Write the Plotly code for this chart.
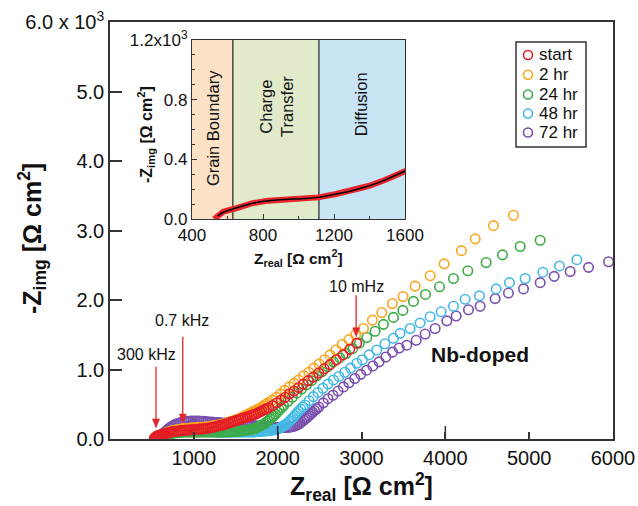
import plotly.graph_objects as go

# ---------------- data (main Nyquist plot, Z in Ohm cm^2; -Zimg in 10^3 Ohm cm^2) ----------
start_z = [528, 535, 543, 552, 562, 575, 588, 600, 615, 630, 645, 660, 680, 700, 720, 740, 765, 790,
           815, 840, 865, 890, 915, 940, 965, 990, 1015, 1040, 1065, 1090, 1115, 1140, 1165, 1190,
           1215, 1240, 1265, 1290, 1315, 1340, 1365, 1390, 1415, 1440, 1465, 1490, 1515, 1540, 1565,
           1590, 1615, 1640, 1665, 1690, 1715, 1740, 1765, 1790, 1815, 1840, 1865, 1890, 1940, 1990,
           2040, 2090, 2140, 2195, 2250, 2305, 2365, 2425, 2490, 2555, 2625, 2700, 2780, 2860, 2944]
start_y = [0.005, 0.015, 0.025, 0.035, 0.045, 0.05, 0.055, 0.06, 0.065, 0.07, 0.075, 0.08, 0.085,
           0.09, 0.10, 0.105, 0.108, 0.11, 0.115, 0.12, 0.122, 0.125, 0.128, 0.13, 0.133, 0.135,
           0.138, 0.14, 0.143, 0.145, 0.148, 0.15, 0.155, 0.16, 0.165, 0.17, 0.18, 0.19, 0.195, 0.20,
           0.21, 0.22, 0.23, 0.24, 0.25, 0.26, 0.27, 0.28, 0.29, 0.30, 0.31, 0.32, 0.33, 0.34, 0.35,
           0.36, 0.375, 0.39, 0.405, 0.42, 0.435, 0.45, 0.48, 0.52, 0.56, 0.60, 0.65, 0.69, 0.74,
           0.79, 0.84, 0.89, 0.95, 1.01, 1.07, 1.14, 1.21, 1.29, 1.38]

hr2_z = [575, 583, 592, 602, 613, 625, 638, 652, 667, 683, 700, 720, 740, 762, 785, 810, 835, 860,
         885, 910, 935, 960, 985, 1010, 1035, 1060, 1085, 1110, 1135, 1160, 1185, 1210, 1235, 1260,
         1285, 1310, 1335, 1360, 1385, 1410, 1435, 1460, 1485, 1510, 1535, 1560, 1585, 1610, 1635,
         1660, 1685, 1710, 1735, 1760, 1785, 1810, 1835, 1860, 1885, 1935, 1985, 2035, 2085, 2140,
         2195, 2250, 2310, 2370, 2430, 2495, 2560, 2625, 2695, 2770, 2850, 2930, 3023, 3130, 3242,
         3369, 3496, 3640, 3819, 3986, 4192, 4356, 4574, 4813]
hr2_y = [0.005, 0.015, 0.025, 0.035, 0.045, 0.055, 0.065, 0.075, 0.085, 0.095, 0.10, 0.11, 0.12,
         0.125, 0.13, 0.135, 0.14, 0.145, 0.15, 0.152, 0.155, 0.158, 0.16, 0.162, 0.165, 0.167,
         0.17, 0.17, 0.172, 0.176, 0.18, 0.185, 0.19, 0.195, 0.20, 0.205, 0.21, 0.22, 0.23, 0.24,
         0.25, 0.26, 0.27, 0.28, 0.29, 0.305, 0.32, 0.335, 0.35, 0.365, 0.38, 0.395, 0.41, 0.425,
         0.44, 0.46, 0.48, 0.50, 0.52, 0.56, 0.60, 0.65, 0.70, 0.75, 0.80, 0.85, 0.91, 0.96, 1.02,
         1.08, 1.14, 1.21, 1.28, 1.36, 1.43, 1.50, 1.59, 1.71, 1.82, 1.95, 2.05, 2.20, 2.35, 2.52,
         2.71, 2.88, 3.07, 3.22]

hr24_z = [645, 652, 660, 670, 680, 692, 705, 720, 740, 760, 780, 800, 825, 850, 875, 900, 925, 950,
          975, 1000, 1025, 1050, 1075, 1100, 1125, 1150, 1175, 1200, 1225, 1250, 1275, 1300, 1325,
          1350, 1375, 1400, 1425, 1450, 1475, 1500, 1525, 1550, 1575, 1600, 1625, 1650, 1675, 1700,
          1725, 1750, 1772, 1795, 1818, 1840, 1862, 1885, 1908, 1930, 1952, 1975, 1998, 2020, 2045,
          2070, 2120, 2175, 2230, 2285, 2345, 2405, 2465, 2530, 2595, 2665, 2740, 2815, 2895, 2975,
          3063, 3162, 3262, 3381, 3493, 3620, 3763, 3930, 4097, 4268, 4487, 4682, 4893, 5131]
hr24_y = [0.01, 0.02, 0.03, 0.04, 0.05, 0.058, 0.065, 0.072, 0.08, 0.085, 0.09, 0.092, 0.095,
          0.097, 0.098, 0.10, 0.10, 0.10, 0.10, 0.10, 0.10, 0.10, 0.10, 0.10, 0.10, 0.10, 0.10,
          0.10, 0.10, 0.10, 0.10, 0.10, 0.10, 0.10, 0.10, 0.102, 0.104, 0.106, 0.108, 0.11, 0.112,
          0.115, 0.118, 0.12, 0.125, 0.13, 0.135, 0.14, 0.15, 0.16, 0.175, 0.19, 0.205, 0.22, 0.24,
          0.26, 0.285, 0.31, 0.335, 0.36, 0.39, 0.42, 0.45, 0.48, 0.54, 0.60, 0.66, 0.72, 0.78,
          0.84, 0.91, 0.97, 1.04, 1.11, 1.17, 1.23, 1.30, 1.38, 1.46, 1.55, 1.65, 1.75, 1.85, 1.98,
          2.08, 2.19, 2.31, 2.42, 2.54, 2.65, 2.77, 2.86]

hr48_z = [630, 637, 645, 655, 665, 677, 690, 705, 720, 740, 760, 780, 800, 825, 850, 875, 900, 925,
          950, 975, 1000, 1025, 1050, 1075, 1100, 1125, 1150, 1175, 1200, 1225, 1250, 1275, 1300,
          1325, 1350, 1375, 1400, 1425, 1450, 1475, 1500, 1525, 1550, 1575, 1600, 1625, 1650, 1675,
          1700, 1725, 1750, 1775, 1800, 1825, 1850, 1875, 1900, 1922, 1945, 1968, 1990, 2010, 2030,
          2050, 2070, 2090, 2108, 2127, 2145, 2165, 2185, 2206, 2228, 2250, 2275, 2300, 2325, 2375,
          2426, 2480, 2540, 2600, 2665, 2730, 2800, 2870, 2944, 3010, 3090, 3182, 3280, 3381, 3461,
          3580, 3699, 3819, 3950, 4097, 4236, 4407, 4606, 4765, 4952, 5163, 5362, 5569]
hr48_y = [0.005, 0.015, 0.025, 0.035, 0.045, 0.055, 0.065, 0.075, 0.085, 0.095, 0.10, 0.105, 0.11,
          0.115, 0.12, 0.123, 0.125, 0.128, 0.13, 0.13, 0.13, 0.128, 0.125, 0.122, 0.12, 0.117,
          0.115, 0.112, 0.11, 0.107, 0.105, 0.102, 0.10, 0.10, 0.10, 0.10, 0.10, 0.10, 0.10, 0.10,
          0.10, 0.10, 0.10, 0.10, 0.10, 0.10, 0.10, 0.10, 0.10, 0.103, 0.105, 0.108, 0.11, 0.112,
          0.115, 0.118, 0.12, 0.125, 0.13, 0.135, 0.14, 0.15, 0.16, 0.175, 0.19, 0.205, 0.22, 0.24,
          0.26, 0.285, 0.31, 0.34, 0.37, 0.40, 0.43, 0.46, 0.49, 0.55, 0.61, 0.67, 0.73, 0.79, 0.85,
          0.90, 0.96, 1.02, 1.09, 1.14, 1.21, 1.28, 1.37, 1.45, 1.52, 1.59, 1.67, 1.76, 1.83, 1.91,
          2.01, 2.06, 2.16, 2.25, 2.31, 2.40, 2.49, 2.58]

hr72_z = [585, 592, 600, 610, 620, 632, 645, 660, 675, 692, 710, 730, 750, 770, 790, 815, 840, 865,
          890, 915, 940, 965, 990, 1015, 1040, 1065, 1090, 1115, 1140, 1165, 1190, 1215, 1240, 1265,
          1290, 1315, 1340, 1365, 1390, 1415, 1440, 1465, 1490, 1515, 1540, 1565, 1590, 1615, 1640,
          1665, 1690, 1715, 1740, 1765, 1790, 1815, 1840, 1865, 1890, 1915, 1940, 1965, 1990, 2015,
          2040, 2065, 2090, 2115, 2140, 2162, 2185, 2207, 2230, 2250, 2270, 2290, 2310, 2330, 2350,
          2372, 2395, 2417, 2440, 2465, 2490, 2545, 2600, 2660, 2720, 2785, 2850, 2920, 2990, 3060,
          3135, 3210, 3290, 3370, 3450, 3540, 3652, 3759, 3878, 4018, 4129, 4276, 4415, 4594, 4753,
          4932, 5131, 5298, 5489, 5708, 5947]
hr72_y = [0.005, 0.018, 0.03, 0.045, 0.06, 0.075, 0.09, 0.105, 0.12, 0.14, 0.16, 0.175, 0.19, 0.203,
          0.215, 0.225, 0.235, 0.243, 0.25, 0.253, 0.255, 0.258, 0.26, 0.26, 0.26, 0.258, 0.255,
          0.253, 0.25, 0.248, 0.245, 0.243, 0.24, 0.238, 0.235, 0.233, 0.23, 0.228, 0.225, 0.223,
          0.22, 0.218, 0.215, 0.213, 0.21, 0.208, 0.205, 0.203, 0.20, 0.198, 0.195, 0.193, 0.19,
          0.188, 0.185, 0.183, 0.18, 0.178, 0.175, 0.173, 0.17, 0.17, 0.17, 0.168, 0.165, 0.165,
          0.165, 0.167, 0.17, 0.175, 0.18, 0.19, 0.20, 0.215, 0.23, 0.25, 0.27, 0.29, 0.31, 0.335,
          0.36, 0.385, 0.41, 0.435, 0.46, 0.52, 0.58, 0.63, 0.69, 0.75, 0.81, 0.87, 0.93, 0.99,
          1.05, 1.11, 1.18, 1.25, 1.31, 1.35, 1.42, 1.51, 1.59, 1.70, 1.77, 1.86, 1.91, 2.02, 2.10,
          2.16, 2.25, 2.34, 2.41, 2.47, 2.55]

series_names = ["start", "2 hr", "24 hr", "48 hr", "72 hr"]
series_colors = ["#e31e26", "#f9a51f", "#3bab48", "#45b9e6", "#7b4fae"]

# ---------------- inset data (start, zoomed) ----------------
inset_z = [525, 548, 576, 633, 736, 830, 924, 1018, 1112, 1206, 1300, 1394, 1487, 1562, 1606]
inset_y = [0.0, 0.027, 0.049, 0.067, 0.105, 0.123, 0.132, 0.136, 0.145, 0.166, 0.19, 0.221, 0.261,
           0.302, 0.324]
fit_z = [545, 576, 633, 736, 830, 924, 1018, 1112, 1206, 1300, 1394, 1487, 1562, 1606]
fit_y = [0.02, 0.045, 0.068, 0.104, 0.122, 0.131, 0.136, 0.145, 0.166, 0.19, 0.221, 0.261, 0.302,
         0.324]

regions = ["Grain Boundary", "Charge<br>Transfer", "Diffusion"]
region_bounds = [400, 630, 1115, 1600]
region_colors = ["#fbe2c6", "#e1ebcb", "#c8e5f6"]

main_xticks = [1000, 2000, 3000, 4000, 5000, 6000]
main_yticks = [0, 1, 2, 3, 4, 5, 6]
main_yticktext = ["0.0", "1.0", "2.0", "3.0", "4.0", "5.0", "6.0 x 10<sup>3</sup>"]
inset_xticks = [400, 800, 1200, 1600]
inset_yticks = [0.0, 0.4, 0.8, 1.2]
inset_yticktext = ["0.0", "0.4", "0.8", "1.2x10<sup>3</sup>"]

FONT = "Liberation Sans, Arial, Helvetica, sans-serif"
AX = "#333333"
ARROW = "#e0262b"

# plot-area pixel geometry (used only to place decorations)
L, R, T, B = 110, 613, 22, 439


def px(x):
    return (x - L) / (R - L)


def py(y):
    return (B - y) / (B - T)


fig = go.Figure()

all_z = [start_z, hr2_z, hr24_z, hr48_z, hr72_z]
all_y = [start_y, hr2_y, hr24_y, hr48_y, hr72_y]
for i in reversed(range(5)):  # 'start' drawn last (on top)
    fig.add_trace(go.Scatter(
        x=all_z[i], y=all_y[i], mode="markers", name=series_names[i], showlegend=False,
        marker=dict(symbol="circle-open", size=9.5, color=series_colors[i],
                    line=dict(width=1.6, color=series_colors[i])),
        xaxis="x", yaxis="y"))

fig.add_trace(go.Scatter(x=inset_z, y=inset_y, mode="lines", showlegend=False,
                         line=dict(color="#e8262c", width=6), xaxis="x2", yaxis="y2"))
fig.add_trace(go.Scatter(x=fit_z, y=fit_y, mode="lines", showlegend=False,
                         line=dict(color="black", width=1.5, shape="spline"),
                         xaxis="x2", yaxis="y2"))

shapes = []
for i in range(3):
    shapes.append(dict(type="rect", xref="x2", yref="y2 domain", x0=region_bounds[i],
                       x1=region_bounds[i + 1], y0=0, y1=1, fillcolor=region_colors[i],
                       line=dict(width=0), layer="below"))
for b in region_bounds[1:3]:
    shapes.append(dict(type="line", xref="x2", yref="y2 domain", x0=b, x1=b, y0=0, y1=1,
                       line=dict(color="#222", width=1.2), layer="below"))
for t in [2000, 4000]:  # longer ticks
    shapes.append(dict(type="line", xref="x", yref="paper", ysizemode="pixel", yanchor=0,
                       x0=t, x1=t, y0=0, y1=13, line=dict(color=AX, width=1.5)))

# frequency arrows (line + head)
arrow_spec = [(549, 0.16, 1.04), (868, 0.23, 1.47), (2936, 1.47, 2.07)]
for (xa, y_tip, y_tail) in arrow_spec:
    shapes.append(dict(type="line", xref="x", yref="y", x0=xa, x1=xa, y0=y_tail, y1=y_tip + 0.05,
                       line=dict(color=ARROW, width=1.3)))
    shapes.append(dict(type="path", xref="x", yref="y", xsizemode="pixel", ysizemode="pixel",
                       xanchor=xa, yanchor=y_tip, path="M -3.5,9 L 3.5,9 L 0,0 Z",
                       fillcolor=ARROW, line=dict(color=ARROW, width=0.5)))

annotations = []
region_text_x = [515, 872, 1357]
region_text_y = [0.51, 0.63, 0.64]
for i in range(3):
    annotations.append(dict(x=region_text_x[i], y=region_text_y[i], xref="x2", yref="y2 domain",
                            xanchor="center", yanchor="middle",
                            text=regions[i], showarrow=False, textangle=-90,
                            font=dict(family=FONT, size=16.5, color="#111")))

freq_labels = [("300 kHz", 438, 1.21), ("0.7 kHz", 855, 1.71), ("10 mHz", 2944, 2.20)]
for (t, xa, ya) in freq_labels:
    annotations.append(dict(x=xa, y=ya, xref="x", yref="y", text=t, showarrow=False,
                            xanchor="center", yanchor="middle",
                            font=dict(family=FONT, size=16, color="#111")))
annotations.append(dict(x=4415, y=1.21, xref="x", yref="y", text="<b>Nb-doped</b>",
                        xanchor="center", yanchor="middle",
                        showarrow=False, font=dict(family=FONT, size=21, color="#111")))

# axis titles
annotations.append(dict(x=px(32), y=py(239), xref="paper", yref="paper", showarrow=False,
                        xanchor="center", yanchor="middle",
                        text="<b>-Z<sub>img</sub> [Ω cm<sup>2</sup>]</b>", textangle=-90,
                        font=dict(family=FONT, size=25, color="#111")))
annotations.append(dict(x=px(146), y=py(135), xref="paper", yref="paper", showarrow=False,
                        xanchor="center", yanchor="middle",
                        text="<b>-Z<sub>img</sub> [Ω cm<sup>2</sup>]</b>", textangle=-90,
                        font=dict(family=FONT, size=16, color="#111")))
annotations.append(dict(x=px(298), y=py(258), xref="paper", yref="paper", showarrow=False,
                        xanchor="center", yanchor="middle",
                        text="<b>Z<sub>real</sub> [Ω cm<sup>2</sup>]</b>",
                        font=dict(family=FONT, size=15.5, color="#111")))

# custom legend (box, open circles, labels)
leg_rows = [55, 74.7, 94.5, 113.5, 132.5]
shapes.append(dict(type="rect", xref="paper", yref="paper", x0=px(516), x1=px(586),
                   y0=py(147), y1=py(42), line=dict(color=AX, width=1.5), fillcolor="white"))
for i in range(5):
    shapes.append(dict(type="circle", xref="paper", yref="paper", xsizemode="pixel",
                       ysizemode="pixel", xanchor=px(528), yanchor=py(leg_rows[i]),
                       x0=-4.5, x1=4.5, y0=-4.5, y1=4.5,
                       line=dict(color=series_colors[i], width=1.6)))
    annotations.append(dict(x=px(537), y=py(leg_rows[i]), xref="paper", yref="paper",
                            xanchor="left", yanchor="middle", showarrow=False,
                            text=series_names[i], font=dict(family=FONT, size=17, color="#111")))

fig.update_layout(
    width=638, height=506,
    margin=dict(l=L, r=638 - R, t=T, b=506 - B, autoexpand=False),
    paper_bgcolor="white", plot_bgcolor="rgba(0,0,0,0)",
    font=dict(family=FONT, color="#111"),
    showlegend=False,
    xaxis=dict(domain=[0, 1], range=[0, 6000], tickvals=main_xticks, ticks="inside", ticklen=7,
               tickwidth=1.5, tickcolor=AX, showline=True, linecolor=AX, linewidth=1.5,
               mirror=True, showgrid=False, zeroline=False, automargin=False,
               tickfont=dict(family=FONT, size=20, color="#111"),
               title=dict(text="<b>Z<sub>real</sub> [Ω cm<sup>2</sup>]</b>", standoff=6,
                          font=dict(family=FONT, size=25, color="#111"))),
    yaxis=dict(domain=[0, 1], range=[0, 6], tickvals=main_yticks, ticktext=main_yticktext,
               ticks="inside", ticklen=12, tickwidth=1.5, tickcolor=AX, showline=True,
               linecolor=AX, linewidth=1.5, mirror=True, showgrid=False, zeroline=False,
               automargin=False, tickfont=dict(family=FONT, size=20, color="#111")),
    xaxis2=dict(domain=[px(192), px(405)], anchor="y2", range=[400, 1600], tickvals=inset_xticks,
                ticks="inside", ticklen=5, tickwidth=1.2, tickcolor=AX,
                minor=dict(dtick=200, ticks="inside", ticklen=3, tickcolor=AX),
                showline=True, linecolor=AX, linewidth=1.2, mirror=True, showgrid=False,
                zeroline=False, automargin=False,
                tickfont=dict(family=FONT, size=17, color="#111")),
    yaxis2=dict(domain=[py(219), py(40)], anchor="x2", range=[0, 1.2], tickvals=inset_yticks,
                ticktext=inset_yticktext, ticks="inside", ticklen=5, tickwidth=1.2, tickcolor=AX,
                minor=dict(dtick=0.1, ticks="inside", ticklen=3, tickcolor=AX),
                showline=True, linecolor=AX, linewidth=1.2, mirror=True, showgrid=False,
                zeroline=False, automargin=False,
                tickfont=dict(family=FONT, size=17, color="#111")),
    shapes=shapes,
    annotations=annotations,
)

fig.write_html("out.html")
